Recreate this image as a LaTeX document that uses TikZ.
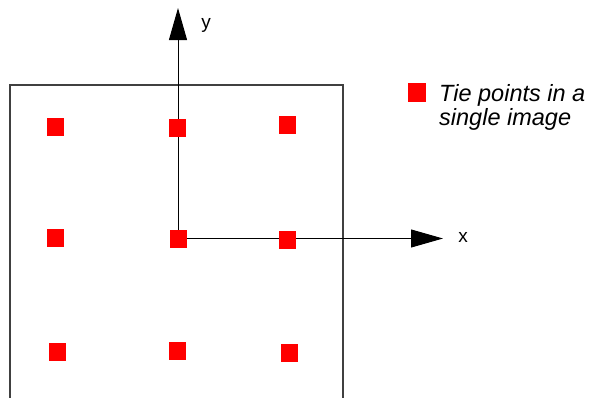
\documentclass[tikz,border=0pt]{standalone}
\usepackage{fontspec}
\setmainfont{Liberation Sans}
\usetikzlibrary{arrows.meta}
\begin{document}
\begin{tikzpicture}[x=1pt,y=-1pt,
  tiept/.style={draw=none,fill=red,minimum width=17pt,minimum height=18pt,inner sep=0pt},
  axis/.style={line width=1pt,-{Triangle[length=32pt,width=18pt]}},
  frameline/.style={line width=1.2pt,draw=black!75},
  axlabel/.style={font=\fontsize{19}{22}\selectfont,inner sep=0pt},
  legtext/.style={font=\fontsize{23.5}{26}\itshape\selectfont,inner sep=0pt,anchor=base west}]
\useasboundingbox (0,0) rectangle (590,397);
% frame
\coordinate (fbl) at (10,398);
\coordinate (ftl) at (10,85);
\coordinate (ftr) at (343,85);
\coordinate (fbr) at (343,398);
\draw[frameline] (fbl) -- (ftl) -- (ftr) -- (fbr);
% axes
\coordinate (o) at (178,238.5);
\coordinate (ytip) at (178,8);
\coordinate (xtip) at (443,238.5);
\draw[axis] (o) -- (ytip);
\draw[axis] (o) -- (xtip);
\node[axlabel] (ylab) at (206,25) {y};
\node[axlabel] (xlab) at (463,237) {x};
% tie points
\node[tiept] (p11) at (55,127) {};
\node[tiept] (p12) at (177,128) {};
\node[tiept] (p13) at (287,125) {};
\node[tiept] (p21) at (55,238) {};
\node[tiept] (p22) at (o) {};
\node[tiept] (p23) at (287,240) {};
\node[tiept] (p31) at (57,352) {};
\node[tiept] (p32) at (177,351) {};
\node[tiept] (p33) at (289,353) {};
% legend
\node[tiept,minimum width=18pt,minimum height=19pt] (leg) at (417,92.5) {};
\node[legtext] (lt1) at (439,101) {Tie points in a};
\node[legtext] (lt2) at (439,125.5) {single image};
\end{tikzpicture}
\end{document}
